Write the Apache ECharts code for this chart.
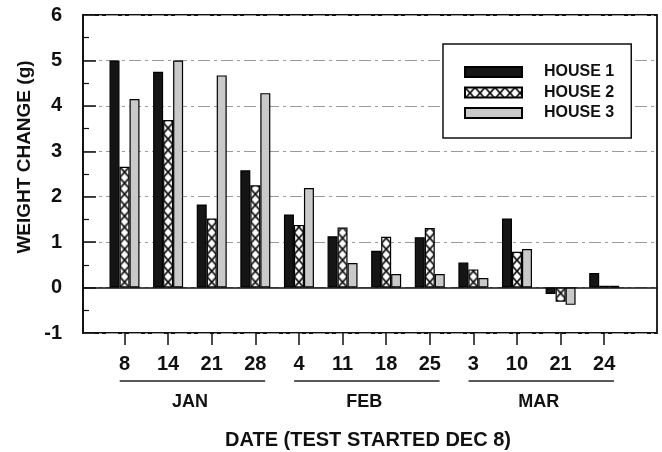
<!DOCTYPE html>
<html>
<head>
<meta charset="utf-8">
<script src="https://cdn.jsdelivr.net/npm/echarts@6/dist/echarts.min.js"></script>
<style>
html,body{margin:0;padding:0;background:#fff;}
#c{width:662px;height:452px;}
</style>
</head>
<body>
<div id="c"></div>
<script>
// ---- data ----
var dates = ['8','14','21','28','4','11','18','25','3','10','21','24'];
var months = ['JAN','FEB','MAR'];
var seriesNames = ['HOUSE 1','HOUSE 2','HOUSE 3'];
var house1 = [5.00, 4.75, 1.83, 2.58, 1.61, 1.13, 0.81, 1.11, 0.55, 1.52, -0.14, 0.32];
var house2 = [2.66, 3.69, 1.52, 2.25, 1.38, 1.32, 1.12, 1.31, 0.40, 0.79, -0.31, 0.04];
var house3 = [4.15, 5.00, 4.67, 4.28, 2.19, 0.54, 0.30, 0.30, 0.21, 0.85, -0.38, 0.04];
var yMin = -1, yMax = 6, yInterval = 1;
var yTitle = 'WEIGHT CHANGE (g)';
var xTitle = 'DATE (TEST STARTED DEC 8)';

var FONT = '"Liberation Sans", Arial, Helvetica, sans-serif';
var BAR_W = 10;

function hatch(ox, oy) {
  var cv = document.createElement('canvas');
  cv.width = 10; cv.height = 11;
  var ctx = cv.getContext('2d');
  ctx.fillStyle = '#fff';
  ctx.fillRect(0, 0, 10, 11);
  ctx.strokeStyle = '#111';
  ctx.lineWidth = 1.8;
  ctx.beginPath();
  ctx.moveTo(0, 0); ctx.lineTo(10, 11);
  ctx.moveTo(10, 0); ctx.lineTo(0, 11);
  ctx.stroke();
  return { image: cv, repeat: 'repeat', x: ox || 0, y: oy || 0 };
}

var chart = echarts.init(document.getElementById('c'), null, { renderer: 'canvas' });

function buildOption(h2data) {
  return {
    backgroundColor: '#fff',
    animation: false,
    textStyle: { fontFamily: FONT },
    legend: {
      data: seriesNames,
      orient: 'vertical',
      icon: 'rect',
      left: 443, top: 44,
      padding: [20, 17, 17, 21],
      itemWidth: 57, itemHeight: 10, itemGap: 4.5,
      borderColor: '#111', borderWidth: 1.5,
      backgroundColor: '#fff',
      textStyle: { fontSize: 16, fontWeight: 'bold', color: '#111', fontFamily: FONT, padding: [0, 0, 0, 17] }
    },
    grid: [
      { left: 83, right: 5, top: 15, bottom: 119, show: true, borderColor: '#111', borderWidth: 1.8, backgroundColor: 'transparent' },
      { left: 102.7, right: 36, top: 15, bottom: 119 }
    ],
    xAxis: [
      { gridIndex: 0, type: 'value', min: 0, max: 1,
        axisLine: { show: true, onZero: true, lineStyle: { color: '#111', width: 1.6 } },
        axisTick: { show: false }, axisLabel: { show: false }, splitLine: { show: false } },
      { gridIndex: 1, type: 'category', data: dates, position: 'bottom',
        axisLine: { show: false, onZero: false },
        axisTick: { show: true, alignWithLabel: true, length: 12, lineStyle: { color: '#111', width: 1.5 } },
        axisLabel: { fontSize: 20, fontWeight: 'bold', color: '#111', margin: 21, fontFamily: FONT, interval: 0 },
        splitLine: { show: false } },
      { gridIndex: 1, type: 'category', data: months, position: 'bottom', offset: 52,
        axisLine: { show: false, onZero: false }, axisTick: { show: false },
        axisLabel: { fontSize: 18, fontWeight: 'bold', color: '#111', margin: 8, fontFamily: FONT, interval: 0 },
        splitLine: { show: false } }
    ],
    yAxis: [
      { gridIndex: 0, type: 'value', min: yMin, max: yMax, interval: yInterval,
        axisLine: { show: true, lineStyle: { color: '#111', width: 1.8 } },
        axisTick: { show: true, inside: true, length: 13, lineStyle: { color: '#111', width: 1.5 } },
        minorTick: { show: true, splitNumber: 2, length: 6, lineStyle: { color: '#111', width: 1.2 } },
        axisLabel: { fontSize: 20, fontWeight: 'bold', color: '#111', margin: 21, fontFamily: FONT },
        splitLine: { show: true, lineStyle: { color: '#9a9a9a', width: 1.2, type: [12, 4, 3, 4] } } },
      { gridIndex: 1, type: 'value', min: yMin, max: yMax, interval: yInterval, show: false,
        splitLine: { show: false } }
    ],
    series: [
      { name: seriesNames[0], type: 'bar', xAxisIndex: 1, yAxisIndex: 1, data: house1,
        barWidth: BAR_W, barGap: '0%',
        itemStyle: { color: '#151515', borderColor: '#000', borderWidth: 1.2 } },
      { name: seriesNames[1], type: 'bar', xAxisIndex: 1, yAxisIndex: 1, data: h2data,
        barWidth: BAR_W, barGap: '0%',
        itemStyle: { color: hatch(0, 0), borderColor: '#000', borderWidth: 1.2 } },
      { name: seriesNames[2], type: 'bar', xAxisIndex: 1, yAxisIndex: 1, data: house3,
        barWidth: BAR_W, barGap: '0%',
        itemStyle: { color: '#c9c9c9', borderColor: '#000', borderWidth: 1.2 } },
      { type: 'custom', xAxisIndex: 2, yAxisIndex: 1, silent: true, clip: false,
        data: months.map(function (m, i) { return [i]; }),
        encode: { x: 0 },
        renderItem: function (params, api) {
          var c = api.coord([api.value(0), yMin]);
          var w = api.size([1, 0])[0];
          return { type: 'line', shape: { x1: c[0] - w / 2 + 17, y1: c[1] + 48, x2: c[0] + w / 2 - 12, y2: c[1] + 48 },
                   style: { stroke: '#222', lineWidth: 1.6 } };
        } }
    ],
    graphic: [
      { type: 'text', x: 25, y: 157, rotation: Math.PI / 2,
        style: { text: yTitle, font: 'bold 19px ' + FONT, fill: '#111', textAlign: 'center', textVerticalAlign: 'middle' } },
      { type: 'text', x: 368, y: 440,
        style: { text: xTitle, font: 'bold 20px ' + FONT, fill: '#111', textAlign: 'center', textVerticalAlign: 'middle' } }
    ]
  };
}

chart.setOption(buildOption(house2));
// align hatch pattern with each bar
var h2 = house2.map(function (v, i) {
  var p = chart.convertToPixel({ gridIndex: 1 }, [i, 0]);
  return { value: v, itemStyle: { color: hatch(p[0] - BAR_W / 2, p[1]) } };
});
chart.setOption(buildOption(h2), true);
</script>
</body>
</html>
